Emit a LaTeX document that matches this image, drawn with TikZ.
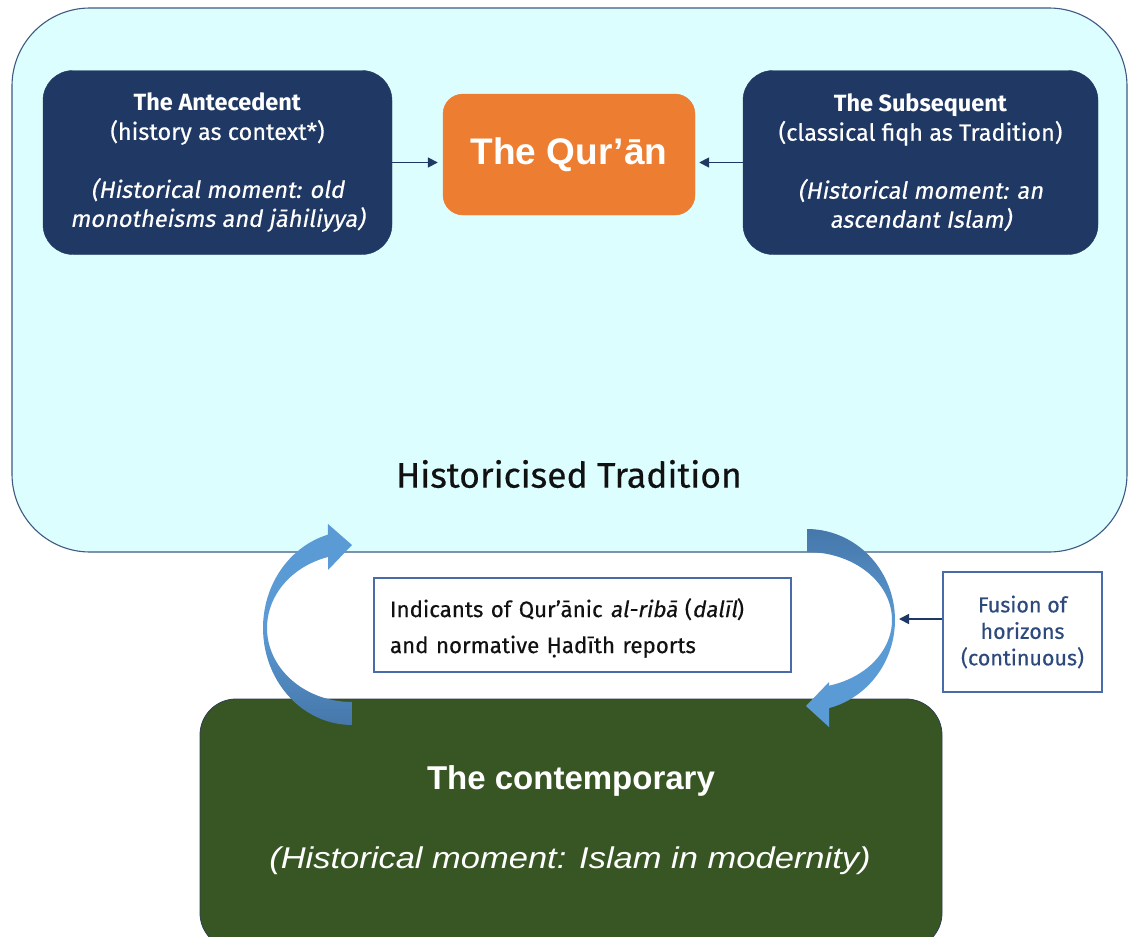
\documentclass[tikz,border=0pt]{standalone}
\usepackage{fontspec}
\usetikzlibrary{arrows.meta}
\setmainfont{Fira Sans}[
  UprightFeatures={FakeBold=0.4},
  ItalicFont=Fira Sans,
  ItalicFeatures={FakeSlant=0.18, FakeBold=0.4}]
\newfontfamily\arialfont{Liberation Sans}
\newfontfamily\arialwide{Liberation Sans}[FakeStretch=1.15]
\definecolor{outerfill}{HTML}{DDFEFE}
\definecolor{outerline}{HTML}{3E5A82}
\definecolor{navy}{HTML}{203864}
\definecolor{qorange}{HTML}{ED7D31}
\definecolor{qgreen}{HTML}{385623}
\definecolor{greenline}{HTML}{2F3F4F}
\definecolor{boxline}{HTML}{4A6BAA}
\definecolor{fusiontext}{HTML}{2E4A7D}
\definecolor{arrowlight}{HTML}{5B9BD5}
\definecolor{arrowdark}{HTML}{4677AA}
\definecolor{textdark}{HTML}{111111}
\tikzset{
  navybox/.style={fill=navy, draw=navy, rounded corners=30pt, text=white, align=center,
    font=\fontsize{23.5}{29}\selectfont},
  connector/.style={draw=navy, line width=1.7pt, -{Triangle[length=10pt,width=10pt]}},
  infobox/.style={draw=boxline, line width=1.2pt, fill=white},
}
\begin{document}
\begin{tikzpicture}[x=1pt,y=-1pt]
\useasboundingbox (0,0) rectangle (1128,937);
\fill[white] (0,0) rectangle (1128,937);
% outer container
\node[fill=outerfill, draw=outerline, line width=1.1pt, rounded corners=78pt,
  minimum width=1115pt, minimum height=544pt, inner sep=0pt] (outer) at (569.5,280) {};
\node[font=\fontsize{35.5}{40}\selectfont, text=textdark] (histtrad) at (569,474) {Historicised Tradition};
% top boxes
\node[navybox, minimum width=349pt, minimum height=184pt, inner sep=0pt] (ante) at (217.5,162.5)
  {\textbf{The Antecedent}\\(history as context*)\\[29pt]\textit{(Historical moment: old}\\\textit{monotheisms and jāhiliyya)}};
\node[navybox, minimum width=355pt, minimum height=184pt, inner sep=0pt] (subs) at (920.5,162.5)
  {\textbf{The Subsequent}\\(classical fiqh as Tradition)\\[29pt]\textit{(Historical moment: an}\\\textit{ascendant Islam)}};
\node[fill=qorange, draw=qorange, rounded corners=20pt, minimum width=252pt, minimum height=121pt,
  inner sep=0pt, text=white, font=\arialfont\bfseries\fontsize{37}{42}\selectfont] (quran) at (569,154.5) {The Qur’ān};
\draw[connector, shorten >=5pt] (ante.east) -- (ante.east -| quran.west);
\draw[connector, shorten >=4pt] (subs.west) -- (subs.west -| quran.east);
% contemporary
\node[fill=qgreen, draw=greenline, line width=0.8pt, rounded corners=36pt, minimum width=742pt,
  minimum height=250pt, inner sep=0pt] (contemp) at (571,824) {};
\node[text=white, font=\arialfont\bfseries\fontsize{33}{38}\selectfont] (contitle) at (571,781) {The contemporary};
\node[text=white, font=\arialwide\itshape\fontsize{30}{36}\selectfont] (conmoment) at (570,861) {(Historical moment: Islam in modernity)};
% indicants box
\node[infobox, minimum width=417pt, minimum height=94pt, text width=385pt, inner sep=4pt, align=left,
  text=textdark, font=\fontsize{22.3}{36}\selectfont] (indic) at (582.5,625) {};
\node[text width=385pt, inner sep=0pt, align=left, text=textdark, font=\fontsize{22.3}{36}\selectfont]
  (indictext) at (582.5,628)
  {Indicants of Qur’ānic \textit{al-ribā} (\textit{dalīl})\\and normative Ḥadīth reports};
% fusion box
\node[infobox, minimum width=159pt, minimum height=120pt, inner sep=2pt, align=center,
  text=fusiontext, font=\fontsize{21.5}{26.5}\selectfont] (fusion) at (1022.5,632)
  {Fusion of\\horizons\\(continuous)};
% curved arrows
\shade[top color=arrowlight, bottom color=arrowdark, middle color=arrowlight]
  (352,725) -- plot[domain=90:254.3, samples=50] ({352+89*cos(\x)},{628+97*sin(\x)})
  -- (328,524) -- (352,545) -- (328,570)
  -- plot[domain=253.6:90, samples=50] ({352+85*cos(\x)},{628+74*sin(\x)}) -- cycle;
\shade[top color=arrowdark, bottom color=arrowlight, middle color=arrowlight]
  (807,529) -- plot[domain=270:435.5, samples=50] ({807+88*cos(\x)},{620+91*sin(\x)})
  -- (829,727) -- (806,706) -- (829,682)
  -- plot[domain=435:270, samples=50] ({807+85*cos(\x)},{620+68*sin(\x)}) -- cycle;
\coordinate (fusiontip) at (899,619);
\draw[connector] (fusion.west |- fusiontip) -- (fusiontip);
\end{tikzpicture}
\end{document}
